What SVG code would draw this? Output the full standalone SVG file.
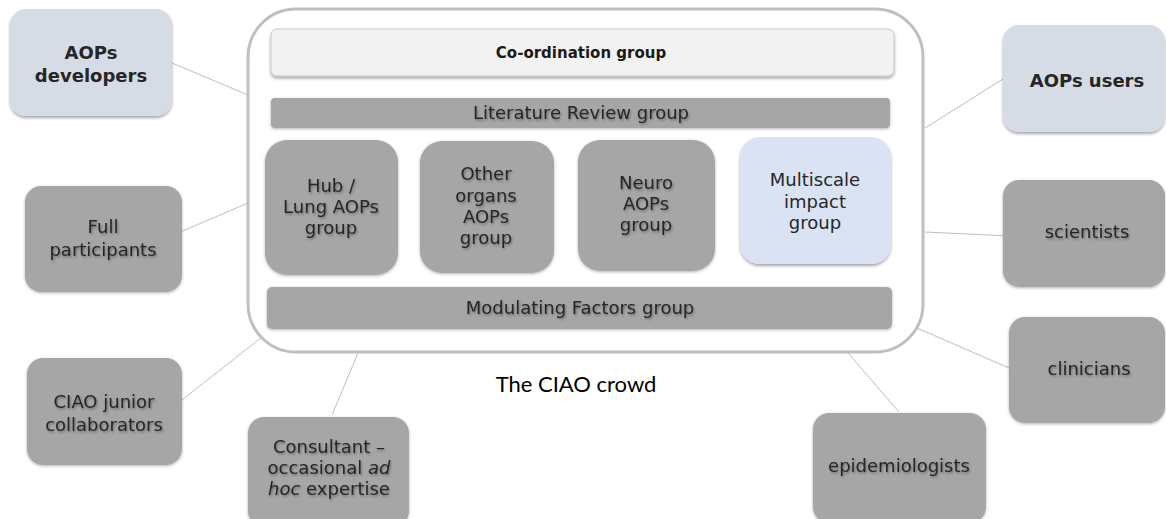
<svg xmlns="http://www.w3.org/2000/svg" width="1166" height="519" viewBox="0 0 1166 519">
<defs>
<filter id="sh" x="-10%" y="-10%" width="120%" height="130%">
<feDropShadow dx="0" dy="2" stdDeviation="1.8" flood-color="#000" flood-opacity="0.35"/>
</filter>
<filter id="gl" x="-10%" y="-10%" width="120%" height="130%">
<feDropShadow dx="0" dy="1" stdDeviation="1.5" flood-color="#000" flood-opacity="0.3"/>
</filter>
<filter id="ts" x="-10%" y="-30%" width="120%" height="160%">
<feDropShadow dx="1" dy="1.5" stdDeviation="1.2" flood-color="#000" flood-opacity="0.35"/>
</filter>
</defs>
<style>
.g{fill:#a6a6a6;filter:url(#gl)}
.b{fill:#d6dce5;filter:url(#sh)}
.t{font-family:"DejaVu Sans",Verdana,sans-serif;font-size:18px;fill:#262626;text-anchor:middle}
.ts{filter:url(#ts)}
.bt{font-family:"DejaVu Sans",Verdana,sans-serif;font-size:18px;font-weight:bold;fill:#262626;text-anchor:middle}
.c{stroke:#bfbfbf;stroke-width:1;fill:none}
</style>
<g id="connectors">
<line class="c" x1="172" y1="63" x2="248" y2="95"/>
<line class="c" x1="925" y1="128" x2="1003" y2="79"/>
<line class="c" x1="171" y1="236" x2="248" y2="203"/>
<line class="c" x1="925" y1="232" x2="1010" y2="236"/>
<line class="c" x1="917" y1="328" x2="1009" y2="368"/>
<line class="c" x1="848" y1="353" x2="899" y2="412"/>
<line class="c" x1="182" y1="400" x2="262" y2="337"/>
<line class="c" x1="358" y1="353" x2="332" y2="415"/>
</g>
<g id="ciao-crowd">
<rect x="248" y="9" width="675" height="343" rx="48" fill="#fff" stroke="#bfbfbf" stroke-width="3"/>
<text x="576" y="392" font-family="Lato,'Open Sans',sans-serif" font-size="22" fill="#000" text-anchor="middle">The CIAO crowd</text>
</g>
<g id="coordination">
<rect x="271" y="29" width="623" height="47" rx="6" fill="#f2f2f2" stroke="#c8c8c8" stroke-width="1" filter="url(#sh)"/>
<text x="581" y="58" font-family="'DejaVu Sans',Verdana,sans-serif" font-size="15" font-weight="bold" fill="#1a1a1a" text-anchor="middle">Co-ordination group</text>
</g>
<g id="literature">
<rect class="g" x="271" y="98" width="619" height="30" rx="4"/>
<text class="t ts" x="581" y="119" font-size="16">Literature Review group</text>
</g>
<g id="hub">
<rect class="g" x="265" y="140" width="133" height="135" rx="22"/>
<text class="t ts"><tspan x="331" y="192">Hub /</tspan><tspan x="331" y="213">Lung AOPs</tspan><tspan x="331" y="234">group</tspan></text>
</g>
<g id="other-organs">
<rect class="g" x="420" y="141" width="134" height="132" rx="22"/>
<text class="t ts"><tspan x="486" y="180">Other</tspan><tspan x="486" y="202">organs</tspan><tspan x="486" y="223">AOPs</tspan><tspan x="486" y="244">group</tspan></text>
</g>
<g id="neuro">
<rect class="g" x="578" y="140" width="137" height="131" rx="22"/>
<text class="t ts"><tspan x="646" y="189">Neuro</tspan><tspan x="646" y="210">AOPs</tspan><tspan x="646" y="231">group</tspan></text>
</g>
<g id="multiscale">
<rect x="740" y="137" width="151" height="127" rx="20" fill="#dae3f3" filter="url(#sh)"/>
<text class="t"><tspan x="815" y="186">Multiscale</tspan><tspan x="815" y="208">impact</tspan><tspan x="815" y="229">group</tspan></text>
</g>
<g id="modulating">
<rect class="g" x="267" y="287" width="625" height="42" rx="5"/>
<text class="t ts" x="580" y="314" font-size="16">Modulating Factors group</text>
</g>
<g id="aops-developers">
<rect class="b" x="10" y="9" width="162" height="107" rx="16"/>
<text class="bt"><tspan x="91" y="59">AOPs</tspan><tspan x="91" y="82">developers</tspan></text>
</g>
<g id="aops-users">
<rect class="b" x="1003" y="25" width="162" height="107" rx="16"/>
<text class="bt" x="1087" y="87">AOPs users</text>
</g>
<g id="full-participants">
<rect class="g" x="25" y="186" width="157" height="106" rx="16"/>
<text class="t ts"><tspan x="103" y="233">Full</tspan><tspan x="103" y="256">participants</tspan></text>
</g>
<g id="scientists">
<rect class="g" x="1003" y="180" width="162" height="107" rx="16"/>
<text class="t ts" x="1087" y="238">scientists</text>
</g>
<g id="clinicians">
<rect class="g" x="1009" y="317" width="156" height="106" rx="16"/>
<text class="t ts" x="1089" y="375">clinicians</text>
</g>
<g id="epidemiologists">
<rect class="g" x="813" y="413" width="173" height="110" rx="16"/>
<text class="t ts" x="899" y="472">epidemiologists</text>
</g>
<g id="ciao-junior">
<rect class="g" x="27" y="358" width="155" height="107" rx="16"/>
<text class="t ts"><tspan x="104" y="408">CIAO junior</tspan><tspan x="104" y="431">collaborators</tspan></text>
</g>
<g id="consultant">
<rect class="g" x="248" y="417" width="161" height="110" rx="16"/>
<text class="t ts"><tspan x="329" y="453">Consultant –</tspan><tspan x="329" y="474">occasional <tspan font-style="italic">ad</tspan></tspan><tspan x="329" y="495"><tspan font-style="italic">hoc</tspan> expertise</tspan></text>
</g>
</svg>
